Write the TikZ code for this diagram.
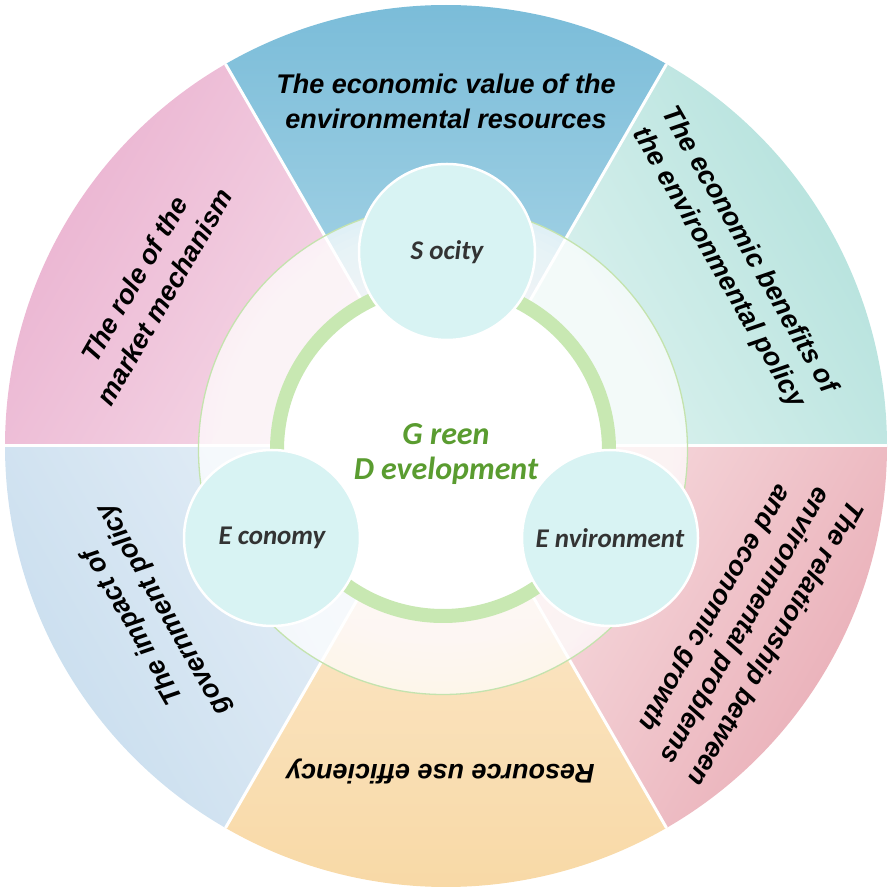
\documentclass[tikz,border=0pt]{standalone}
\usepackage{fontspec}
\setmainfont{Liberation Sans}
\newfontfamily\calib{Carlito}
\usetikzlibrary{calc}
\definecolor{gO}{HTML}{B3E1DC}\definecolor{gI}{HTML}{E3F5F2}
\definecolor{bO}{HTML}{78BBD8}\definecolor{bI}{HTML}{B8DDEB}
\definecolor{pO}{HTML}{EAB2D0}\definecolor{pI}{HTML}{F7DEEA}
\definecolor{lO}{HTML}{C8DDEE}\definecolor{lI}{HTML}{E9F1F8}
\definecolor{oO}{HTML}{F8D8A4}\definecolor{oI}{HTML}{FCECD4}
\definecolor{rO}{HTML}{E9ADB6}\definecolor{rI}{HTML}{F8E1E4}
\definecolor{ringgreen}{HTML}{C8E8B2}
\definecolor{thingreen}{HTML}{C4E3AE}
\definecolor{smallfill}{HTML}{D8F3F3}
\definecolor{labelgray}{HTML}{333333}
\definecolor{titlegreen}{HTML}{5A9C30}
\tikzset{
  secttext/.style={font=\bfseries\itshape\fontsize{27}{35}\selectfont, align=center, inner sep=0pt, text=black},
  smallc/.style={circle, minimum size=176pt, fill=smallfill, draw=white, line width=2.5pt, inner sep=0pt,
    font=\calib\bfseries\itshape\fontsize{27}{30}\selectfont, text=labelgray},
  centertext/.style={font=\calib\bfseries\itshape\fontsize{32}{35}\selectfont, align=center, text=titlegreen, inner sep=0pt}
}
\begin{document}
\begin{tikzpicture}[x=1pt,y=1pt]
\useasboundingbox (0,0) rectangle (891,892);
\coordinate (O) at (446,446);
\coordinate (C) at (443,442);
% sectors
\foreach \s/\o/\i in {0/gO/gI, 60/bO/bI, 120/pO/pI, 180/lO/lI, 240/oO/oI, 300/rO/rI} {
  \pgfmathsetmacro\sh{\s-60}
  \pgfmathsetmacro\se{\s+60}
  \shade[top color=\o, bottom color=\i, shading angle=\sh]
    (O) -- ++(\s:441) arc[start angle=\s, end angle=\se, radius=441] -- cycle;
}
\foreach \s in {0,60,...,300}
  \draw[white, line width=3pt] (O) -- ++(\s:441);
% inner translucent disc
\fill[white, opacity=0.7] (C) circle[radius=244.5];
\foreach \r in {238,231,...,168}
  \fill[white, opacity=0.08] (C) circle[radius=\r];
\draw[thingreen, line width=1.3pt] (C) circle[radius=244.5];
\fill[white] (C) circle[radius=166];
\draw[ringgreen, line width=14pt] (C) circle[radius=166];
% small circles
\node[smallc] (soc) at (447,640) {S ocity};
\node[smallc] (eco) at (272,354) {E conomy};
\node[smallc] (env) at (610,354) {E nvironment};
\node[centertext] (gd) at (446,438) {G reen\\D evelopment};
% sector texts
\node[secttext] (t1) at ($(O)+(90:345)$) {The economic value of the\\environmental resources};
\node[secttext, rotate=-60] (t2) at ($(O)+(33:343)$) {The economic benefits of\\the environmental policy};
\node[secttext, rotate=240] (t3) at ($(O)+(329:348)$) {The relationship between\\environmental problems\\and economic growth};
\node[secttext, rotate=180] (t4) at ($(O)+(269:326)$) {Resource use efficiency};
\node[secttext, rotate=120] (t5) at ($(O)+(210:343)$) {The impact of\\government policy};
\node[secttext, rotate=60] (t6) at ($(O)+(152:336)$) {The role of the\\market mechanism};
\end{tikzpicture}
\end{document}
